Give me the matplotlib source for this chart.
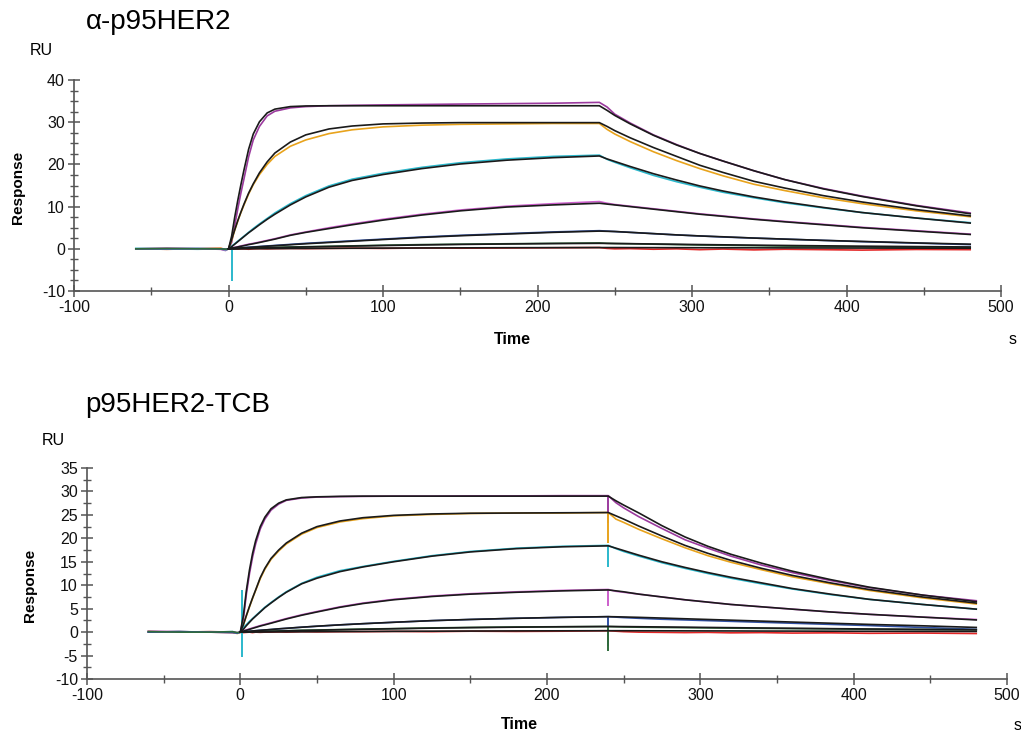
"""Two-panel SPR sensorgram: alpha-p95HER2 vs p95HER2-TCB, data traces with fitted curves."""
import matplotlib
matplotlib.use("Agg")
import matplotlib.pyplot as plt
from matplotlib.ticker import MultipleLocator

plt.rcParams["font.family"] = ["Liberation Sans", "DejaVu Sans"]
plt.rcParams["axes.unicode_minus"] = False

# ---------------------------------------------------------------------------
# Time grids (s)
# ---------------------------------------------------------------------------
t_base = [-60, -40, -20, -5, -2]
t_assoc = [0, 2, 4, 6, 8, 10, 13, 16, 20, 25, 30, 40, 50, 65, 80, 100, 125,
           150, 180, 210, 240]
t_dissoc = [245, 250, 260, 275, 290, 305, 320, 340, 360, 385, 410, 445, 480]

t_fit = t_assoc + t_dissoc
t_data = t_base + t_assoc + t_dissoc

# ---------------------------------------------------------------------------
# Top panel: alpha-p95HER2 (RU)
# ---------------------------------------------------------------------------
top_fit1 = [0, 3.0, 7.5, 11.5, 15.2, 18.7, 23.6, 27.2, 30.1, 32.2, 33.1, 33.7,
            33.85, 33.9, 33.9, 33.9, 33.9, 33.9, 33.9, 33.9, 33.9,
            32.8, 31.6, 29.6, 26.9, 24.6, 22.6, 20.8, 18.5, 16.4, 14.2, 12.4, 10.2, 8.3]
top_dat1 = [0.0, 0.1, 0.0, -0.1, -0.4,
            0.0, 1.5, 5.5, 9.5, 13.2, 16.6, 21.8, 25.8, 29.0, 31.5, 32.6, 33.4,
            33.7, 33.9, 34.0, 34.1, 34.2, 34.3, 34.4, 34.5, 34.7,
            33.6, 31.9, 29.8, 27.0, 24.7, 22.6, 20.8, 18.5, 16.4, 14.3, 12.5, 10.3, 8.5]

top_fit2 = [0, 2.2, 4.5, 6.7, 8.7, 10.6, 13.2, 15.4, 18.0, 20.6, 22.7, 25.3,
            27.0, 28.4, 29.1, 29.6, 29.8, 29.9, 29.9, 29.9, 29.9,
            29.0, 28.0, 26.3, 24.0, 21.9, 19.8, 18.1, 16.0, 14.4, 12.6, 11.1, 9.3, 7.8]
top_dat2 = [0.0, -0.1, 0.0, 0.1, -0.2,
            0.0, 2.0, 4.4, 6.6, 8.6, 10.4, 13.0, 15.2, 17.6, 20.0, 21.9, 24.3,
            25.8, 27.3, 28.2, 28.9, 29.3, 29.5, 29.6, 29.7, 29.7,
            28.3, 27.2, 25.4, 23.0, 20.9, 19.0, 17.3, 15.3, 13.8, 12.1, 10.7, 9.0, 7.6]

top_fit3 = [0, 0.5, 1.1, 1.7, 2.3, 2.9, 3.8, 4.6, 5.7, 7.0, 8.2, 10.4, 12.3,
            14.6, 16.2, 17.6, 19.0, 20.1, 21.0, 21.6, 22.0,
            21.3, 20.7, 19.5, 17.8, 16.3, 14.9, 13.7, 12.3, 11.1, 9.8, 8.6, 7.3, 6.1]
top_dat3 = [0.1, 0.0, -0.1, 0.0, -0.3,
            0.0, 0.6, 1.2, 1.8, 2.4, 3.0, 3.9, 4.8, 5.9, 7.2, 8.5, 10.7, 12.6,
            14.9, 16.5, 17.9, 19.3, 20.4, 21.3, 21.9, 22.2,
            21.2, 20.5, 19.2, 17.4, 15.9, 14.6, 13.4, 12.1, 10.9, 9.7, 8.6, 7.3, 6.2]

top_fit4 = [0, 0.15, 0.3, 0.45, 0.6, 0.75, 1.0, 1.2, 1.5, 1.9, 2.3, 3.2, 3.9,
            4.8, 5.7, 6.8, 8.0, 9.0, 9.9, 10.4, 10.8,
            10.6, 10.4, 10.0, 9.4, 8.8, 8.2, 7.7, 7.0, 6.4, 5.7, 5.0, 4.2, 3.4]
top_dat4 = [0.0, 0.1, 0.0, -0.1, -0.2,
            0.0, 0.2, 0.35, 0.5, 0.7, 0.85, 1.1, 1.3, 1.6, 2.0, 2.4, 3.3, 4.0,
            5.0, 5.9, 7.0, 8.2, 9.2, 10.1, 10.7, 11.2,
            10.8, 10.5, 10.1, 9.5, 8.9, 8.3, 7.8, 7.1, 6.5, 5.8, 5.1, 4.3, 3.5]

top_fit5 = [0, 0.05, 0.1, 0.15, 0.2, 0.25, 0.32, 0.4, 0.5, 0.62, 0.74, 0.97,
            1.2, 1.5, 1.8, 2.2, 2.7, 3.1, 3.5, 3.9, 4.2,
            4.15, 4.1, 3.9, 3.6, 3.3, 3.05, 2.85, 2.55, 2.3, 2.0, 1.75, 1.4, 1.1]
top_dat5 = [0.0, 0.0, 0.1, 0.0, -0.1,
            0.0, 0.1, 0.15, 0.2, 0.25, 0.3, 0.38, 0.45, 0.55, 0.68, 0.8, 1.05,
            1.3, 1.6, 1.9, 2.3, 2.8, 3.2, 3.6, 4.0, 4.3,
            4.2, 4.1, 3.9, 3.6, 3.3, 3.05, 2.8, 2.55, 2.3, 2.0, 1.7, 1.35, 1.0]

top_fit6 = [0, 0.02, 0.04, 0.06, 0.08, 0.1, 0.13, 0.16, 0.2, 0.24, 0.28, 0.36,
            0.44, 0.55, 0.65, 0.78, 0.92, 1.04, 1.15, 1.24, 1.3,
            1.28, 1.26, 1.22, 1.15, 1.08, 1.01, 0.95, 0.87, 0.8, 0.71, 0.63, 0.53, 0.44]
top_dat6 = [0.0, 0.1, 0.0, 0.0, -0.1,
            0.0, 0.05, 0.1, 0.1, 0.15, 0.15, 0.2, 0.2, 0.25, 0.3, 0.35, 0.45,
            0.5, 0.6, 0.7, 0.85, 1.0, 1.1, 1.2, 1.3, 1.4,
            1.3, 1.25, 1.2, 1.1, 1.0, 0.9, 0.85, 0.75, 0.65, 0.55, 0.45, 0.35, 0.3]

top_fit7 = [0, 0, 0.01, 0.01, 0.02, 0.02, 0.03, 0.03, 0.04, 0.05, 0.06, 0.08,
            0.1, 0.12, 0.14, 0.17, 0.2, 0.23, 0.26, 0.28, 0.3,
            0.3, 0.3, 0.29, 0.28, 0.27, 0.26, 0.25, 0.23, 0.22, 0.2, 0.18, 0.16, 0.14]
top_dat7 = [0.0, -0.1, 0.0, 0.1, -0.1,
            0.0, -0.1, 0.0, -0.05, 0.0, 0.0, -0.1, 0.0, 0.05, 0.0, 0.05, 0.1,
            0.05, 0.1, 0.15, 0.1, 0.2, 0.15, 0.2, 0.25, 0.3,
            0.1, 0.0, 0.05, -0.1, 0.0, -0.2, -0.05, -0.25, -0.1, -0.2, -0.3, -0.15, -0.2]

# injection artefacts: time, low, high, series index
top_spike_t = [2]
top_spike_lo = [-7.7]
top_spike_hi = [0.0]
top_spike_idx = [2]

# ---------------------------------------------------------------------------
# Bottom panel: p95HER2-TCB (RU)
# ---------------------------------------------------------------------------
bot_fit1 = [0, 3.5, 9.0, 13.3, 16.8, 19.5, 22.5, 24.5, 26.3, 27.5, 28.2, 28.7,
            28.85, 28.95, 29.0, 29.0, 29.0, 29.0, 29.0, 29.0, 29.0,
            28.0, 27.1, 25.4, 22.7, 20.3, 18.3, 16.6, 14.7, 13.0, 11.2, 9.6, 7.9, 6.5]
bot_dat1 = [0.2, 0.1, 0.0, 0.0, -0.2,
            0.0, 2.8, 8.2, 12.5, 16.0, 18.8, 22.0, 24.1, 26.0, 27.3, 28.1, 28.6,
            28.8, 28.9, 28.95, 29.0, 29.0, 29.05, 29.05, 29.1, 29.1,
            27.6, 26.5, 24.6, 22.1, 19.7, 17.9, 16.2, 14.3, 12.7, 11.0, 9.5, 7.9, 6.7]

bot_fit2 = [0, 1.6, 3.6, 5.5, 7.3, 9.0, 11.6, 13.6, 15.7, 17.5, 19.0, 21.1,
            22.5, 23.7, 24.4, 24.9, 25.2, 25.35, 25.4, 25.45, 25.5,
            24.8, 24.1, 22.6, 20.5, 18.5, 16.8, 15.3, 13.6, 12.1, 10.5, 9.1, 7.5, 6.2]
bot_dat2 = [0.1, 0.0, 0.1, 0.0, -0.3,
            0.0, 1.5, 3.5, 5.4, 7.2, 8.9, 11.4, 13.4, 15.5, 17.3, 18.8, 20.9,
            22.3, 23.5, 24.2, 24.8, 25.1, 25.3, 25.4, 25.4, 25.5,
            24.1, 23.4, 21.9, 19.9, 18.0, 16.3, 14.9, 13.3, 11.8, 10.3, 8.9, 7.3, 6.0]

bot_fit3 = [0, 0.6, 1.4, 2.1, 2.8, 3.4, 4.3, 5.2, 6.2, 7.4, 8.5, 10.3, 11.5,
            12.9, 13.9, 15.0, 16.2, 17.1, 17.8, 18.2, 18.4,
            17.9, 17.4, 16.4, 15.0, 13.8, 12.7, 11.7, 10.5, 9.3, 8.1, 7.0, 5.9, 4.9]
bot_dat3 = [0.0, 0.1, 0.0, 0.1, -0.2,
            0.0, 1.0, 1.6, 2.3, 2.9, 3.5, 4.4, 5.3, 6.3, 7.5, 8.6, 10.4, 11.7,
            13.1, 14.0, 15.1, 16.3, 17.2, 17.9, 18.3, 18.5,
            17.8, 17.2, 16.2, 14.8, 13.6, 12.5, 11.5, 10.3, 9.2, 8.0, 7.0, 5.9, 4.9]

bot_fit4 = [0, 0.2, 0.4, 0.6, 0.8, 1.0, 1.3, 1.55, 1.9, 2.35, 2.8, 3.6, 4.3,
            5.3, 6.1, 6.9, 7.6, 8.1, 8.5, 8.8, 9.0,
            8.8, 8.6, 8.1, 7.5, 6.9, 6.4, 5.9, 5.4, 4.9, 4.3, 3.8, 3.2, 2.6]
bot_dat4 = [0.0, 0.0, 0.1, 0.0, -0.1,
            0.0, 0.3, 0.5, 0.7, 0.9, 1.1, 1.4, 1.65, 2.0, 2.45, 2.9, 3.7, 4.4,
            5.4, 6.2, 7.0, 7.7, 8.2, 8.6, 8.9, 9.1,
            8.7, 8.5, 8.1, 7.5, 6.9, 6.4, 5.9, 5.4, 4.9, 4.3, 3.8, 3.2, 2.7]

bot_fit5 = [0, 0.06, 0.12, 0.18, 0.24, 0.3, 0.38, 0.46, 0.56, 0.7, 0.82, 1.05,
            1.27, 1.55, 1.8, 2.1, 2.45, 2.7, 2.95, 3.15, 3.3,
            3.27, 3.23, 3.15, 3.0, 2.85, 2.7, 2.55, 2.35, 2.15, 1.9, 1.65, 1.35, 1.0]
bot_dat5 = [0.0, 0.1, 0.0, -0.1, -0.2,
            0.0, 0.1, 0.15, 0.2, 0.25, 0.3, 0.4, 0.45, 0.55, 0.7, 0.8, 1.05,
            1.25, 1.55, 1.8, 2.1, 2.45, 2.7, 2.95, 3.15, 3.3,
            3.2, 3.1, 2.95, 2.75, 2.6, 2.45, 2.3, 2.1, 1.9, 1.65, 1.4, 1.0, 0.6]

bot_fit6 = [0, 0.02, 0.04, 0.06, 0.08, 0.1, 0.12, 0.15, 0.18, 0.22, 0.26, 0.34,
            0.41, 0.51, 0.6, 0.72, 0.85, 0.96, 1.06, 1.14, 1.2,
            1.19, 1.18, 1.15, 1.1, 1.05, 1.0, 0.95, 0.88, 0.82, 0.74, 0.67, 0.58, 0.5]
bot_dat6 = [0.1, 0.0, 0.0, 0.1, -0.1,
            0.0, 0.05, 0.05, 0.1, 0.1, 0.15, 0.15, 0.2, 0.2, 0.25, 0.3, 0.4,
            0.45, 0.55, 0.65, 0.75, 0.9, 1.0, 1.1, 1.15, 1.2,
            1.15, 1.1, 1.05, 1.0, 0.95, 0.9, 0.85, 0.8, 0.75, 0.7, 0.6, 0.55, 0.5]

bot_fit7 = [0, 0, 0.01, 0.01, 0.02, 0.02, 0.03, 0.03, 0.04, 0.05, 0.06, 0.08,
            0.1, 0.12, 0.14, 0.17, 0.2, 0.23, 0.26, 0.28, 0.3,
            0.3, 0.3, 0.29, 0.28, 0.27, 0.26, 0.25, 0.23, 0.22, 0.2, 0.18, 0.16, 0.14]
bot_dat7 = [0.0, 0.1, 0.0, -0.1, -0.2,
            0.0, -0.1, -0.05, 0.0, -0.1, 0.0, -0.05, 0.0, 0.0, 0.05, 0.0, 0.1,
            0.05, 0.1, 0.1, 0.15, 0.1, 0.2, 0.15, 0.2, 0.3,
            0.2, 0.1, 0.0, -0.05, -0.1, -0.05, -0.15, -0.1, -0.2, -0.15, -0.25, -0.2, -0.3]

bot_spike_t = [1, 240, 240, 240, 240, 240, 240]
bot_spike_lo = [-5.4, 23.3, 19.1, 13.9, 5.6, -2.9, -4.0]
bot_spike_hi = [9.0, 29.0, 25.5, 18.4, 9.0, 3.3, 1.2]
bot_spike_idx = [2, 0, 1, 2, 3, 4, 5]

# trace colours, highest concentration first
colors = ["#9b3a9e", "#e8a31c", "#2bb8cc", "#cc5fcc", "#2f4fa3", "#2f6b3b", "#e32626"]
fit_color = "#1a1a1a"
draw_order = [6, 0, 1, 2, 3, 4, 5]   # red underneath, dark green on top at baseline


def draw_panel(ax, fits, dats, spikes, ymin, ymax):
    for i in draw_order:
        ax.plot(t_data, dats[i], color=colors[i], lw=1.2, zorder=2)
    st, slo, shi, sidx = spikes
    for t, lo, hi, i in zip(st, slo, shi, sidx):
        ax.vlines(t, lo, hi, color=colors[i], lw=1.4, zorder=2)
    for f in fits:
        ax.plot(t_fit, f, color=fit_color, lw=1.2, zorder=3)

    ax.set_xlim(-100, 500)
    ax.set_ylim(ymin, ymax)
    ax.xaxis.set_major_locator(MultipleLocator(100))
    ax.xaxis.set_minor_locator(MultipleLocator(50))
    ax.yaxis.set_minor_locator(MultipleLocator(2.5))
    for side in ("top", "right"):
        ax.spines[side].set_visible(False)
    for side in ("left", "bottom"):
        ax.spines[side].set_color("#555555")
        ax.spines[side].set_linewidth(1.2)
    ax.tick_params(which="major", direction="inout", length=9, width=1.1,
                   color="#555555", labelsize=11.5, labelcolor="#111111", pad=2)
    ax.tick_params(which="minor", direction="inout", length=6, width=1.0,
                   color="#555555")


fig = plt.figure(figsize=(10.21, 7.34), dpi=100)

ax1 = fig.add_axes([0.0725, 0.6035, 0.908, 0.2875])
draw_panel(ax1,
           [top_fit1, top_fit2, top_fit3, top_fit4, top_fit5, top_fit6, top_fit7],
           [top_dat1, top_dat2, top_dat3, top_dat4, top_dat5, top_dat6, top_dat7],
           (top_spike_t, top_spike_lo, top_spike_hi, top_spike_idx), -10, 40)
ax1.yaxis.set_major_locator(MultipleLocator(10))

ax2 = fig.add_axes([0.0852, 0.0749, 0.901, 0.2875])
draw_panel(ax2,
           [bot_fit1, bot_fit2, bot_fit3, bot_fit4, bot_fit5, bot_fit6, bot_fit7],
           [bot_dat1, bot_dat2, bot_dat3, bot_dat4, bot_dat5, bot_dat6, bot_dat7],
           (bot_spike_t, bot_spike_lo, bot_spike_hi, bot_spike_idx), -10, 35)
ax2.yaxis.set_major_locator(MultipleLocator(5))

# titles and axis texts
fig.text(0.084, 0.970, "α-p95HER2", fontsize=20, va="center", ha="left")
fig.text(0.029, 0.931, "RU", fontsize=11.5, va="center", ha="left")
fig.text(0.0176, 0.744, "Response", fontsize=11, fontweight="bold",
         rotation=90, va="center", ha="center")
fig.text(0.5015, 0.537, "Time", fontsize=11.5, fontweight="bold",
         va="center", ha="center")
fig.text(0.992, 0.537, "s", fontsize=11.5, va="center", ha="center")

fig.text(0.083, 0.448, "p95HER2-TCB", fontsize=20, va="center", ha="left")
fig.text(0.041, 0.4005, "RU", fontsize=11.5, va="center", ha="left")
fig.text(0.029, 0.203, "Response", fontsize=11, fontweight="bold",
         rotation=90, va="center", ha="center")
fig.text(0.509, 0.0123, "Time", fontsize=11.5, fontweight="bold",
         va="center", ha="center")
fig.text(0.997, 0.011, "s", fontsize=11.5, va="center", ha="center")

fig.savefig("out.png", dpi=100)
